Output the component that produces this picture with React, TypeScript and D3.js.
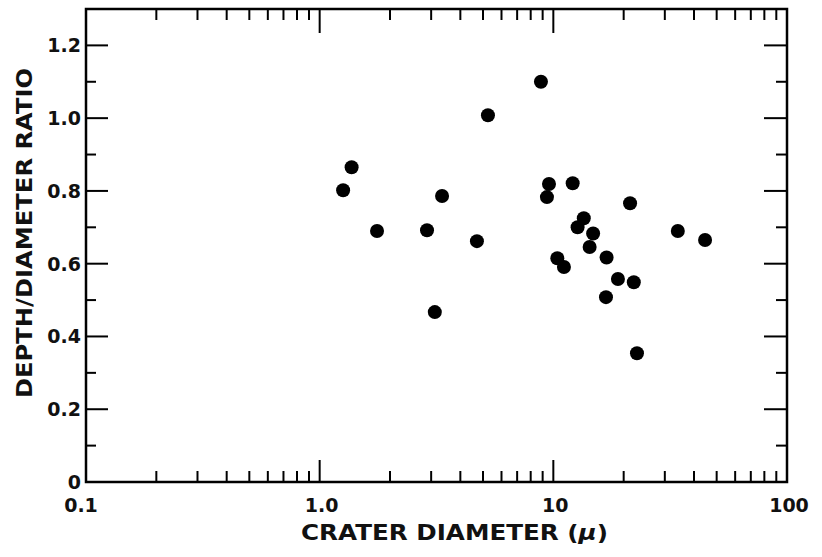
import React from "react";
import * as d3 from "d3";

// crater diameter (microns) and depth/diameter ratio
const diameters = [
  1.26, 1.37, 1.76, 2.88, 3.11, 3.34, 4.71, 5.25, 8.85, 9.39, 9.58, 10.4, 11.1,
  12.1, 12.7, 13.5, 14.3, 14.8, 16.9, 16.8, 18.9, 21.3, 22.1, 22.8, 34.1, 44.6,
];
const ratios = [
  0.802, 0.865, 0.69, 0.692, 0.467, 0.786, 0.662, 1.008, 1.1, 0.783, 0.819,
  0.615, 0.591, 0.821, 0.7, 0.725, 0.646, 0.683, 0.617, 0.508, 0.558, 0.766,
  0.549, 0.354, 0.69, 0.665,
];
const xTickLabels = ["0.1", "1.0", "10", "100"];
const yTickLabels = ["0", "0.2", "0.4", "0.6", "0.8", "1.0", "1.2"];

const width = 822;
const height = 557;
const margin = { top: 9, left: 86, bottom: 75, right: 35 };
const font = "'DejaVu Sans', sans-serif";

const App = () => {
  const x = d3
    .scaleLog()
    .domain([0.1, 100])
    .range([margin.left, width - margin.right]);
  const y = d3
    .scaleLinear()
    .domain([0, 1.3])
    .range([height - margin.bottom, margin.top]);

  const x0 = x.range()[0];
  const x1 = x.range()[1];
  const y0 = y.range()[0];
  const y1 = y.range()[1];

  const isDecade = (v: number) => Math.abs(Math.log10(v) - Math.round(Math.log10(v))) < 1e-6;
  const xTicks = x.ticks().filter((v) => v > 0.1 + 1e-9 && v < 100 - 1e-9);
  const yTicks = d3.range(1, 13).map((i) => i / 10);

  const lines: JSX.Element[] = [];
  xTicks.forEach((v, i) => {
    const px = x(v);
    const major = isDecade(v);
    lines.push(
      <line key={"xb" + i} x1={px} x2={px} y1={y0} y2={y0 - (major ? 22 : 11)} />,
      <line key={"xt" + i} x1={px} x2={px} y1={y1} y2={y1 + (major ? 24 : 11)} />
    );
  });
  yTicks.forEach((v, i) => {
    const py = y(v);
    const major = i % 2 === 1;
    lines.push(
      <line key={"yl" + i} x1={x0} x2={x0 + (major ? 22 : 10)} y1={py} y2={py} />,
      <line key={"yr" + i} x1={x1} x2={x1 - (major ? 23 : 11)} y1={py} y2={py} />
    );
  });

  const pts = diameters.map((d, i) => ({ d, r: ratios[i] }));

  return (
    <svg
      width={width}
      height={height}
      style={{ position: "absolute", left: 0, top: 0, background: "#fff" }}
    >
      <g stroke="#000" strokeWidth={2} fill="none">
        {lines}
      </g>
      <rect
        x={x0}
        y={y1}
        width={x1 - x0}
        height={y0 - y1}
        fill="none"
        stroke="#000"
        strokeWidth={2.5}
      />
      <g fill="#000">
        {pts.map((p, i) => (
          <circle key={i} cx={x(p.d)} cy={y(p.r)} r={7} />
        ))}
      </g>
      <g fontFamily={font} fontWeight="bold" fontSize={19} fill="#111">
        {yTickLabels.map((t) => (
          <text key={t} x={x0 - 5} y={y(+t)} dy="0.36em" textAnchor="end">
            {t}
          </text>
        ))}
        {xTickLabels.map((t) => (
          <text key={t} x={x(+t) + (t === "0.1" ? -5 : 2)} y={y0 + 30} textAnchor="middle">
            {t}
          </text>
        ))}
      </g>
      <text
        x={301}
        y={540}
        fontFamily={font}
        fontWeight="bold"
        fontSize={22}
        textLength={307}
        lengthAdjust="spacingAndGlyphs"
        fill="#111"
      >
        CRATER DIAMETER (<tspan fontStyle="italic">μ</tspan>)
      </text>
      <text
        transform="translate(32,233) rotate(-90)"
        textAnchor="middle"
        fontFamily={font}
        fontWeight="bold"
        fontSize={22}
        textLength={330}
        lengthAdjust="spacingAndGlyphs"
        fill="#111"
      >
        DEPTH/DIAMETER RATIO
      </text>
    </svg>
  );
};

export default App;
